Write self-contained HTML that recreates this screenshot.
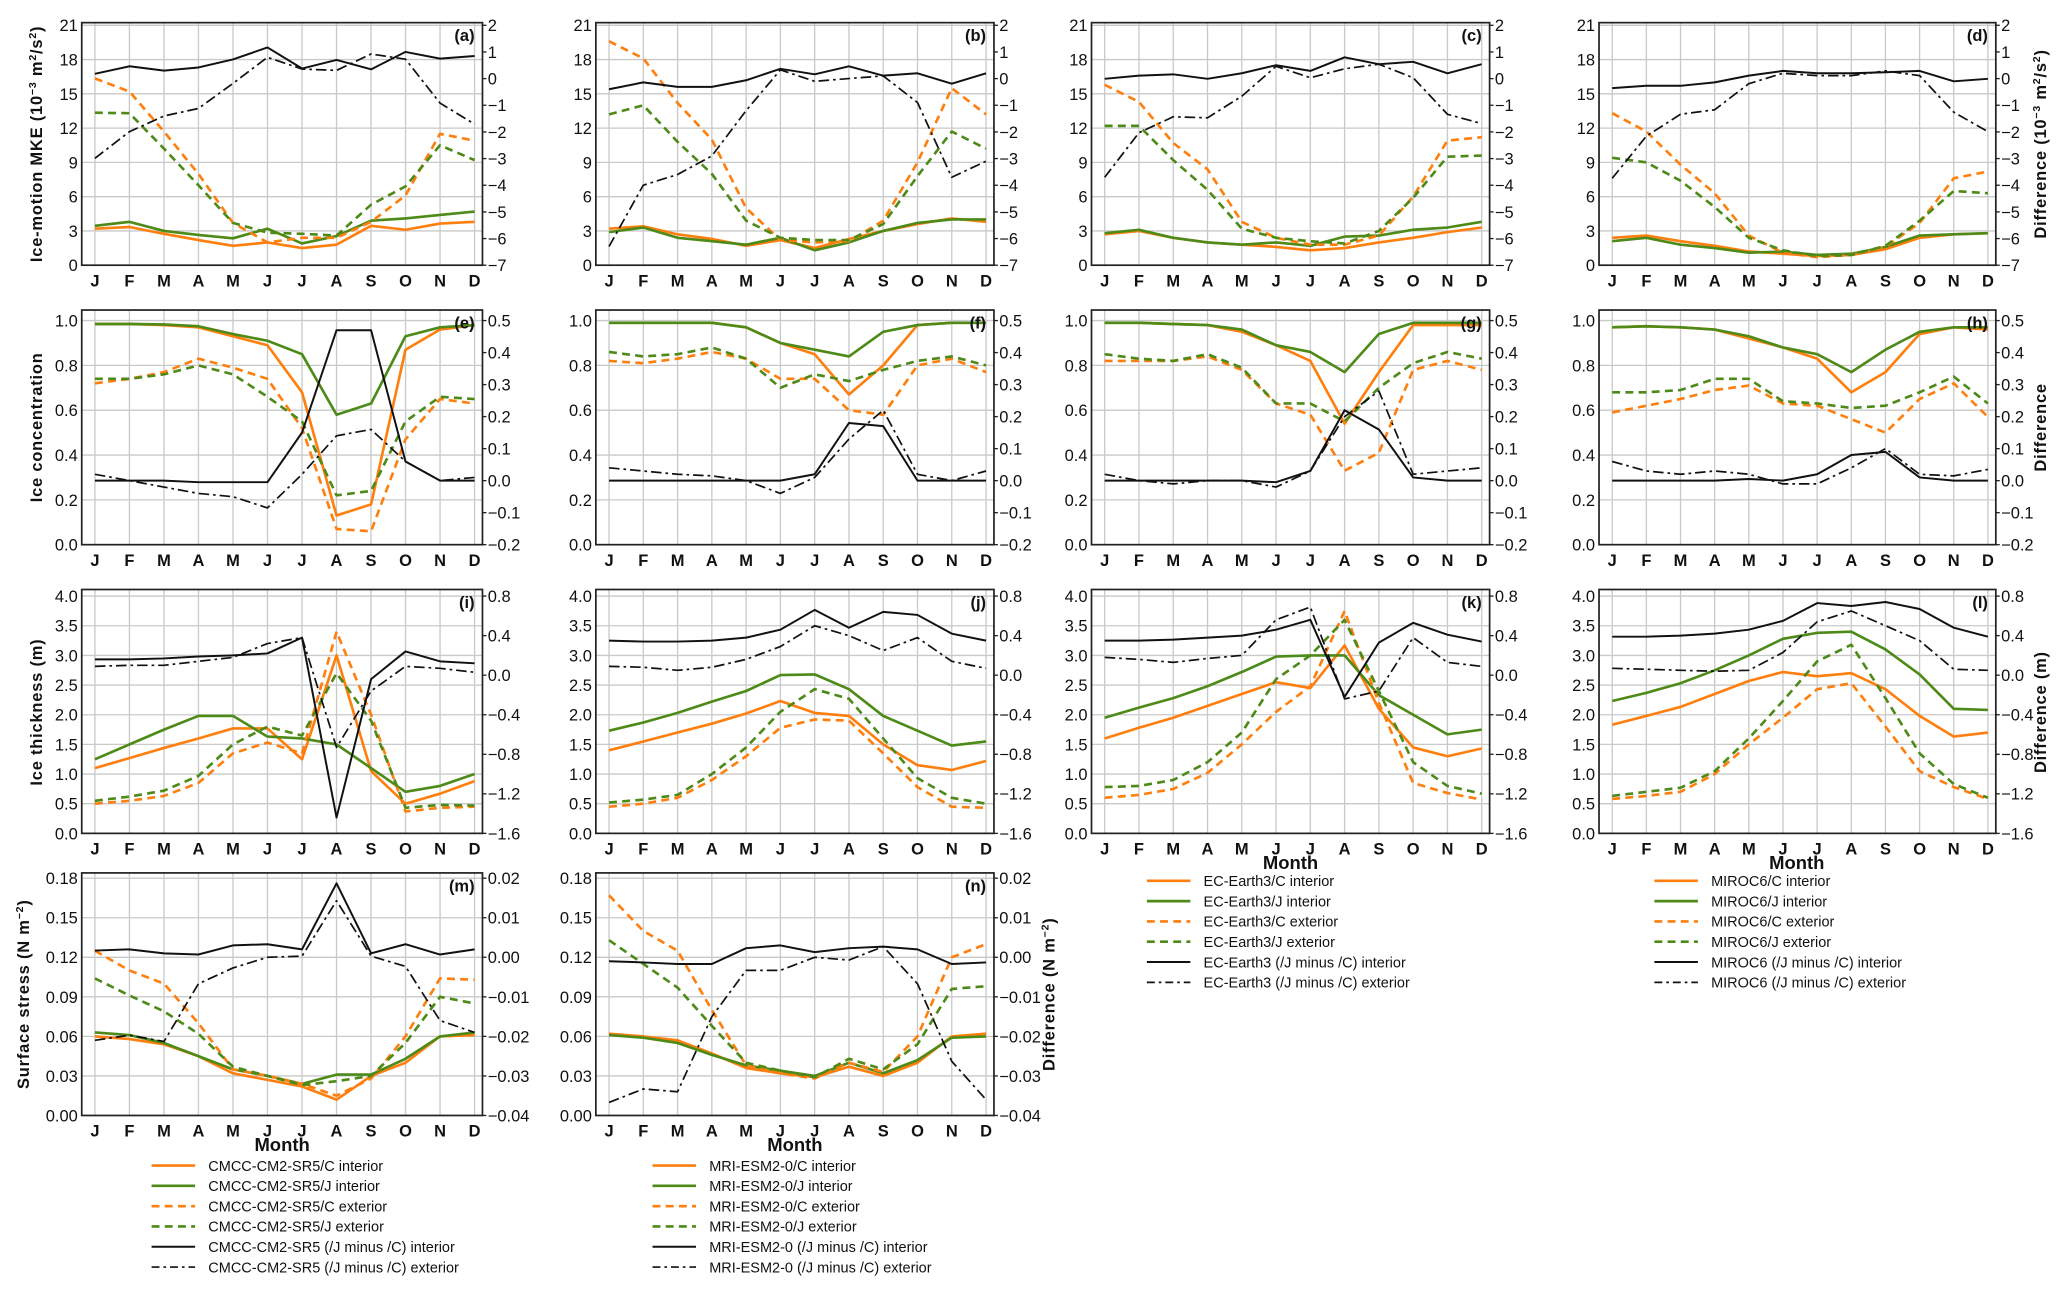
<!DOCTYPE html>
<html><head><meta charset="utf-8"><style>
html,body{margin:0;padding:0;background:#fff}
svg{display:block}
text{font-family:"Liberation Sans Narrow","Liberation Sans",sans-serif;fill:#111}
</style></head><body>
<svg id="fig" width="2067" height="1295" viewBox="0 0 1568 982" xmlns="http://www.w3.org/2000/svg"></svg>
<script>
const months = ["J","F","M","A","M","J","J","A","S","O","N","D"];
// Row 1: MKE
const a_cInt=[3.2,3.35,2.75,2.2,1.7,2.0,1.5,1.8,3.45,3.1,3.65,3.8];
const a_jInt=[3.45,3.8,3.0,2.65,2.35,3.2,1.9,2.55,3.9,4.1,4.4,4.7];
const a_cExt=[16.35,15.2,11.7,8.0,3.7,2.0,2.4,2.4,3.8,6.1,11.5,10.9];
const a_jExt=[13.35,13.3,10.2,7.0,3.7,2.85,2.75,2.6,5.3,6.9,10.5,9.2];
const a_dInt=[0.18,0.46,0.3,0.42,0.72,1.17,0.38,0.7,0.35,1.0,0.75,0.85];
const a_dExt=[-2.99,-1.99,-1.4,-1.12,-0.18,0.8,0.36,0.31,0.92,0.73,-0.92,-1.71];
const b_cInt=[3.2,3.4,2.7,2.3,1.7,2.2,1.5,2.3,3.0,3.6,4.1,3.8];
const b_jInt=[2.9,3.3,2.4,2.1,1.8,2.4,1.3,2.0,3.0,3.7,4.0,4.0];
const b_cExt=[19.6,18.1,14.2,11.0,5.0,2.2,2.0,2.1,3.9,9.0,15.5,13.2];
const b_jExt=[13.2,14.0,10.8,8.0,3.9,2.4,2.2,2.2,3.6,7.8,11.7,10.2];
const b_dInt=[-0.4,-0.14,-0.31,-0.31,-0.06,0.37,0.16,0.46,0.11,0.2,-0.19,0.2];
const b_dExt=[-6.3,-4.0,-3.6,-2.9,-1.2,0.33,-0.1,0.0,0.1,-0.9,-3.7,-3.1];
const c_cInt=[2.7,3.0,2.4,2.0,1.8,1.6,1.3,1.5,2.0,2.4,2.9,3.3];
const c_jInt=[2.8,3.1,2.4,2.0,1.8,2.0,1.7,2.5,2.6,3.1,3.3,3.8];
const c_cExt=[15.8,14.3,10.7,8.4,3.8,2.4,1.8,1.8,2.6,6.0,10.9,11.2];
const c_jExt=[12.2,12.2,9.2,6.6,3.2,2.4,2.1,1.9,3.0,5.9,9.5,9.6];
const c_dInt=[-0.01,0.11,0.16,-0.01,0.2,0.5,0.29,0.8,0.54,0.63,0.2,0.54];
const c_dExt=[-3.7,-2.03,-1.43,-1.47,-0.66,0.46,0.03,0.37,0.54,0.03,-1.34,-1.69];
const d_cInt=[2.4,2.6,2.1,1.7,1.2,1.0,0.8,0.9,1.4,2.4,2.7,2.8];
const d_jInt=[2.1,2.4,1.8,1.5,1.1,1.2,0.9,1.0,1.6,2.6,2.7,2.8];
const d_cExt=[13.3,11.7,8.8,6.3,2.6,1.1,0.7,0.9,1.6,3.7,7.6,8.2];
const d_jExt=[9.4,9.0,7.4,5.1,2.4,1.3,0.8,0.9,1.7,3.9,6.5,6.3];
const d_dInt=[-0.36,-0.27,-0.27,-0.14,0.11,0.29,0.2,0.2,0.24,0.29,-0.1,-0.01];
const d_dExt=[-3.74,-2.16,-1.34,-1.17,-0.19,0.2,0.11,0.11,0.29,0.11,-1.26,-1.99];
// Row 2: concentration
const e_cInt=[0.985,0.985,0.98,0.97,0.93,0.89,0.68,0.13,0.18,0.87,0.96,0.98];
const e_jInt=[0.985,0.985,0.983,0.975,0.94,0.91,0.85,0.58,0.63,0.93,0.97,0.98];
const e_cExt=[0.72,0.74,0.77,0.83,0.79,0.74,0.52,0.07,0.06,0.47,0.65,0.63];
const e_jExt=[0.74,0.74,0.76,0.8,0.76,0.66,0.55,0.22,0.24,0.55,0.66,0.65];
const e_dInt=[0.0,0.0,0.0,-0.005,-0.005,-0.005,0.15,0.47,0.47,0.06,0.0,0.0];
const e_dExt=[0.02,0.0,-0.02,-0.04,-0.05,-0.085,0.02,0.14,0.16,0.06,0.0,0.01];
const f_cInt=[0.99,0.99,0.99,0.99,0.97,0.9,0.85,0.67,0.8,0.98,0.99,0.99];
const f_jInt=[0.99,0.99,0.99,0.99,0.97,0.9,0.87,0.84,0.95,0.98,0.99,0.99];
const f_cExt=[0.82,0.81,0.83,0.86,0.83,0.74,0.74,0.6,0.58,0.8,0.83,0.77];
const f_jExt=[0.86,0.84,0.85,0.88,0.83,0.7,0.76,0.73,0.78,0.82,0.84,0.8];
const f_dInt=[0.0,0.0,0.0,0.0,0.0,0.0,0.02,0.18,0.17,0.0,0.0,0.0];
const f_dExt=[0.04,0.03,0.02,0.015,0.0,-0.04,0.01,0.13,0.22,0.02,0.0,0.03];
const g_cInt=[0.99,0.99,0.985,0.98,0.95,0.89,0.82,0.54,0.77,0.98,0.98,0.98];
const g_jInt=[0.99,0.99,0.985,0.98,0.96,0.89,0.86,0.77,0.94,0.99,0.99,0.99];
const g_cExt=[0.82,0.82,0.82,0.84,0.78,0.63,0.58,0.33,0.41,0.78,0.82,0.78];
const g_jExt=[0.85,0.83,0.82,0.85,0.79,0.63,0.63,0.55,0.7,0.81,0.86,0.83];
const g_dInt=[0.0,0.0,0.0,0.0,0.0,-0.005,0.03,0.22,0.16,0.01,0.0,0.0];
const g_dExt=[0.02,0.0,-0.01,0.0,0.0,-0.02,0.03,0.2,0.28,0.02,0.03,0.04];
const h_cInt=[0.97,0.975,0.97,0.96,0.92,0.88,0.83,0.68,0.77,0.94,0.97,0.96];
const h_jInt=[0.97,0.975,0.97,0.96,0.93,0.88,0.85,0.77,0.87,0.95,0.97,0.97];
const h_cExt=[0.59,0.62,0.65,0.69,0.71,0.63,0.62,0.56,0.5,0.65,0.72,0.57];
const h_jExt=[0.68,0.68,0.69,0.74,0.74,0.64,0.63,0.61,0.62,0.68,0.75,0.63];
const h_dInt=[0.0,0.0,0.0,0.0,0.005,0.0,0.02,0.08,0.09,0.01,0.0,0.0];
const h_dExt=[0.06,0.03,0.02,0.03,0.02,-0.01,-0.01,0.04,0.1,0.02,0.015,0.035];
// Row 3: thickness
const i_cInt=[1.1,1.27,1.44,1.6,1.77,1.77,1.25,3.0,1.05,0.5,0.67,0.88];
const i_jInt=[1.25,1.5,1.75,1.98,1.98,1.63,1.6,1.5,1.1,0.7,0.8,1.0];
const i_cExt=[0.5,0.55,0.63,0.85,1.35,1.53,1.35,3.4,2.0,0.37,0.43,0.45];
const i_jExt=[0.55,0.62,0.72,0.97,1.5,1.8,1.65,2.7,1.9,0.43,0.48,0.47];
const i_dInt=[0.16,0.16,0.17,0.19,0.2,0.22,0.38,-1.44,-0.04,0.24,0.14,0.12];
const i_dExt=[0.09,0.1,0.1,0.14,0.18,0.32,0.38,-0.73,-0.16,0.09,0.07,0.03];
const j_cInt=[1.4,1.55,1.7,1.85,2.02,2.23,2.03,1.98,1.5,1.15,1.07,1.22];
const j_jInt=[1.73,1.87,2.03,2.22,2.4,2.67,2.68,2.43,1.98,1.73,1.48,1.55];
const j_cExt=[0.45,0.5,0.6,0.9,1.3,1.78,1.92,1.9,1.35,0.78,0.45,0.43];
const j_jExt=[0.52,0.57,0.65,1.0,1.45,2.05,2.43,2.27,1.6,0.93,0.6,0.5];
const j_dInt=[0.35,0.34,0.34,0.35,0.38,0.46,0.66,0.48,0.64,0.61,0.42,0.35];
const j_dExt=[0.09,0.08,0.05,0.08,0.16,0.29,0.5,0.4,0.25,0.38,0.14,0.07];
const k_cInt=[1.6,1.78,1.95,2.15,2.35,2.55,2.45,3.17,2.1,1.45,1.3,1.43];
const k_jInt=[1.95,2.12,2.28,2.48,2.72,2.98,3.0,3.0,2.33,2.0,1.67,1.75];
const k_cExt=[0.6,0.65,0.75,1.02,1.5,2.05,2.48,3.75,2.2,0.85,0.68,0.57];
const k_jExt=[0.78,0.8,0.9,1.2,1.7,2.6,3.0,3.6,2.4,1.2,0.8,0.67];
const k_dInt=[0.35,0.35,0.36,0.38,0.4,0.46,0.56,-0.22,0.33,0.53,0.41,0.34];
const k_dExt=[0.18,0.16,0.13,0.17,0.2,0.56,0.69,-0.24,-0.16,0.38,0.13,0.09];
const l_cInt=[1.83,1.98,2.13,2.35,2.57,2.72,2.65,2.7,2.43,1.98,1.63,1.7];
const l_jInt=[2.23,2.37,2.53,2.75,3.0,3.28,3.38,3.4,3.1,2.68,2.1,2.08];
const l_cExt=[0.58,0.63,0.7,1.0,1.5,1.95,2.43,2.53,1.8,1.05,0.78,0.58];
const l_jExt=[0.63,0.7,0.77,1.05,1.6,2.23,2.9,3.18,2.28,1.35,0.83,0.6];
const l_dInt=[0.39,0.39,0.4,0.42,0.46,0.55,0.73,0.7,0.74,0.67,0.48,0.39];
const l_dExt=[0.07,0.06,0.05,0.04,0.05,0.23,0.54,0.65,0.5,0.35,0.06,0.05];
// Row 4: surface stress
const m_cInt=[0.06,0.058,0.054,0.045,0.032,0.027,0.022,0.012,0.03,0.04,0.06,0.061];
const m_jInt=[0.063,0.061,0.055,0.045,0.035,0.03,0.024,0.031,0.031,0.043,0.06,0.063];
const m_cExt=[0.125,0.11,0.1,0.07,0.035,0.03,0.024,0.015,0.028,0.06,0.104,0.103];
const m_jExt=[0.104,0.091,0.079,0.062,0.037,0.03,0.023,0.026,0.03,0.055,0.09,0.085];
const m_dInt=[0.0017,0.002,0.001,0.0007,0.003,0.0033,0.002,0.0187,0.001,0.0033,0.0007,0.002];
const m_dExt=[-0.021,-0.0197,-0.0213,-0.0067,-0.0027,0.0,0.0003,0.0143,0.0003,-0.0023,-0.016,-0.019];
const n_cInt=[0.062,0.06,0.057,0.047,0.036,0.032,0.029,0.037,0.03,0.04,0.06,0.062];
const n_jInt=[0.061,0.059,0.055,0.046,0.038,0.034,0.03,0.04,0.032,0.042,0.059,0.06];
const n_cExt=[0.167,0.14,0.125,0.08,0.038,0.032,0.028,0.04,0.033,0.06,0.12,0.13];
const n_jExt=[0.133,0.115,0.097,0.068,0.04,0.034,0.029,0.043,0.035,0.054,0.096,0.098];
const n_dInt=[-0.001,-0.0013,-0.0017,-0.0017,0.0023,0.003,0.0013,0.0023,0.0027,0.002,-0.0017,-0.0013];
const n_dExt=[-0.0367,-0.0333,-0.034,-0.015,-0.0033,-0.0033,0.0,-0.0007,0.0027,-0.0067,-0.0263,-0.036];

const leftTicks1=[0,3,6,9,12,15,18,21], rightTicks1=[2,1,0,-1,-2,-3,-4,-5,-6,-7];
const leftTicks2=[0,0.2,0.4,0.6,0.8,1.0], rightTicks2=[0.5,0.4,0.3,0.2,0.1,0.0,-0.1,-0.2];
const leftTicks3=[0,0.5,1,1.5,2,2.5,3,3.5,4], rightTicks3=[0.8,0.4,0,-0.4,-0.8,-1.2,-1.6];
const leftTicks4=[0,0.03,0.06,0.09,0.12,0.15,0.18], rightTicks4=[0.02,0.01,0,-0.01,-0.02,-0.03,-0.04];
const leftFmt=[v=>String(v),v=>v.toFixed(1),v=>v.toFixed(1),v=>v.toFixed(2)];
const rightFmt=[v=>String(v).replace('-','\u2212'),v=>v.toFixed(1).replace('-','\u2212'),v=>v.toFixed(1).replace('-','\u2212'),v=>v.toFixed(2).replace('-','\u2212')];

const NS='http://www.w3.org/2000/svg';
const svg=document.getElementById('fig');
const OR='#ff7f0e', GR='#4d8a18';
const cols=[[62,366],[452,754],[828,1130],[1213,1514]];
const rows=[
 {top:17,b:201,t:19,l0:0,l1:21,r0:-7,r1:2,lt:leftTicks1,rt:rightTicks1},
 {top:235,b:413,t:243,l0:0,l1:1,r0:-0.2,r1:0.5,lt:leftTicks2,rt:rightTicks2},
 {top:447,b:632,t:452,l0:0,l1:4,r0:-1.6,r1:0.8,lt:leftTicks3,rt:rightTicks3},
 {top:662,b:846,t:666,l0:0,l1:0.18,r0:-0.04,r1:0.02,lt:leftTicks4,rt:rightTicks4}];
function el(tag,attrs,parent){const e=document.createElementNS(NS,tag);for(const k in attrs)e.setAttribute(k,attrs[k]);(parent||svg).appendChild(e);return e;}
function txt(s,attrs,parent){const e=el('text',attrs,parent);e.textContent=s;return e;}

const panels=[
 ['a',0,0,[a_cInt,a_jInt,a_cExt,a_jExt,a_dInt,a_dExt]],
 ['b',0,1,[b_cInt,b_jInt,b_cExt,b_jExt,b_dInt,b_dExt]],
 ['c',0,2,[c_cInt,c_jInt,c_cExt,c_jExt,c_dInt,c_dExt]],
 ['d',0,3,[d_cInt,d_jInt,d_cExt,d_jExt,d_dInt,d_dExt]],
 ['e',1,0,[e_cInt,e_jInt,e_cExt,e_jExt,e_dInt,e_dExt]],
 ['f',1,1,[f_cInt,f_jInt,f_cExt,f_jExt,f_dInt,f_dExt]],
 ['g',1,2,[g_cInt,g_jInt,g_cExt,g_jExt,g_dInt,g_dExt]],
 ['h',1,3,[h_cInt,h_jInt,h_cExt,h_jExt,h_dInt,h_dExt]],
 ['i',2,0,[i_cInt,i_jInt,i_cExt,i_jExt,i_dInt,i_dExt]],
 ['j',2,1,[j_cInt,j_jInt,j_cExt,j_jExt,j_dInt,j_dExt]],
 ['k',2,2,[k_cInt,k_jInt,k_cExt,k_jExt,k_dInt,k_dExt]],
 ['l',2,3,[l_cInt,l_jInt,l_cExt,l_jExt,l_dInt,l_dExt]],
 ['m',3,0,[m_cInt,m_jInt,m_cExt,m_jExt,m_dInt,m_dExt]],
 ['n',3,1,[n_cInt,n_jInt,n_cExt,n_jExt,n_dInt,n_dExt]]];
const styles=[
 {c:OR,w:2,d:'',n:'c-interior'},{c:GR,w:2,d:'',n:'j-interior'},
 {c:OR,w:2,d:'6,4',n:'c-exterior'},{c:GR,w:2,d:'6,4',n:'j-exterior'},
 {c:'#111',w:1.5,d:'',n:'difference-interior'},{c:'#111',w:1.3,d:'8,3,2,3',n:'difference-exterior'}];

panels.forEach(([id,ri,ci,series])=>{
  const R=rows[ri],[x0,x1]=cols[ci];
  const g=el('g',{});
  
  
  const xs=i=>x0+10+i*(x1-x0-16)/11;
  const yl=v=>R.b-(v-R.l0)/(R.l1-R.l0)*(R.b-R.t);
  const yr=v=>R.b-(v-R.r0)/(R.r1-R.r0)*(R.b-R.t);
  months.forEach((m,i)=>{
    el('line',{x1:xs(i),x2:xs(i),y1:R.top,y2:R.b,stroke:'#c9c9c9','stroke-width':1},g);
    const t=txt(m,{x:xs(i),y:R.b+16,'text-anchor':'middle','font-size':12.5,'font-weight':'bold'},g);
    
    
  });
  R.lt.forEach(v=>{
    el('line',{x1:x0,x2:x1,y1:yl(v),y2:yl(v),stroke:'#c9c9c9','stroke-width':1},g);
    const t=txt(leftFmt[ri](v),{x:x0-3,y:yl(v)+4.5,'text-anchor':'end','font-size':12.5},g);
    
    
  });
  R.rt.forEach(v=>{
    el('line',{x1:x1,x2:x1+3,y1:yr(v),y2:yr(v),stroke:'#222'},g);
    const t=txt(rightFmt[ri](v),{x:x1+4,y:yr(v)+4.5,'font-size':12.5},g);
    
    
  });
  series.forEach((arr,si)=>{
    const s=styles[si];const f=si>=4?yr:yl;
    const p=el('polyline',{points:arr.map((v,i)=>xs(i).toFixed(1)+','+f(v).toFixed(1)).join(' '),fill:'none',stroke:s.c,'stroke-width':s.w,'stroke-dasharray':s.d,'stroke-linejoin':'round'},g);
    
    
  });
  el('rect',{x:x0,y:R.top,width:x1-x0,height:R.b-R.top,fill:'none',stroke:'#222','stroke-width':1.3},g);
  const pl=txt('('+id+')',{x:x1-6,y:R.top+14,'text-anchor':'end','font-size':12.5,'font-weight':'bold'},g);
  
  
});

function vtitle(s,x,y,name){
  const t=txt('',{x:x,y:y,transform:'rotate(-90 '+x+' '+y+')','text-anchor':'middle','font-size':12.5,'font-weight':'bold','font-family':'Liberation Sans, sans-serif','letter-spacing':'0.6'});
  t.innerHTML=s;
  
  
}
vtitle('Ice-motion MKE (10<tspan baseline-shift="super" font-size="8">−3</tspan> m<tspan baseline-shift="super" font-size="8">2</tspan>/s<tspan baseline-shift="super" font-size="8">2</tspan>)',32,109,'y-axis-title-mke');
vtitle('Ice concentration',32,324,'y-axis-title-concentration');
vtitle('Ice thickness (m)',32,540,'y-axis-title-thickness');
vtitle('Surface stress (N m<tspan baseline-shift="super" font-size="8">−2</tspan>)',22,754,'y-axis-title-stress');
vtitle('Difference (10<tspan baseline-shift="super" font-size="8">−3</tspan> m<tspan baseline-shift="super" font-size="8">2</tspan>/s<tspan baseline-shift="super" font-size="8">2</tspan>)',1552,109,'right-axis-title-mke');
vtitle('Difference',1552,324,'right-axis-title-concentration');
vtitle('Difference (m)',1552,540,'right-axis-title-thickness');
vtitle('Difference (N m<tspan baseline-shift="super" font-size="8">−2</tspan>)',800,754,'right-axis-title-stress');

[[214,873],[603,873],[979,659],[1363,659]].forEach(([x,y])=>{
  const t=txt('Month',{x:x,y:y,'text-anchor':'middle','font-size':14,'font-weight':'bold'});
  
  
});

const legendModels=[['CMCC-CM2-SR5',115,884],['MRI-ESM2-0',495,884],['EC-Earth3',870,668],['MIROC6',1255,668]];
const legendSuffix=['/C interior','/J interior','/C exterior','/J exterior',' (/J minus /C) interior',' (/J minus /C) exterior'];
legendModels.forEach(([name,x,y])=>{
  const g=el('g',{});
  
  
  legendSuffix.forEach((suf,i)=>{
    const s=styles[i],yy=y+i*15.4;
    el('line',{x1:x,x2:x+33,y1:yy,y2:yy,stroke:s.c,'stroke-width':s.w,'stroke-dasharray':s.d==='8,3,2,3'?'6,3,2,3':s.d},g);
    const t=txt(name+suf,{x:x+43,y:yy+4,'font-size':11},g);
    
    
  });
});
</script>
</body></html>
